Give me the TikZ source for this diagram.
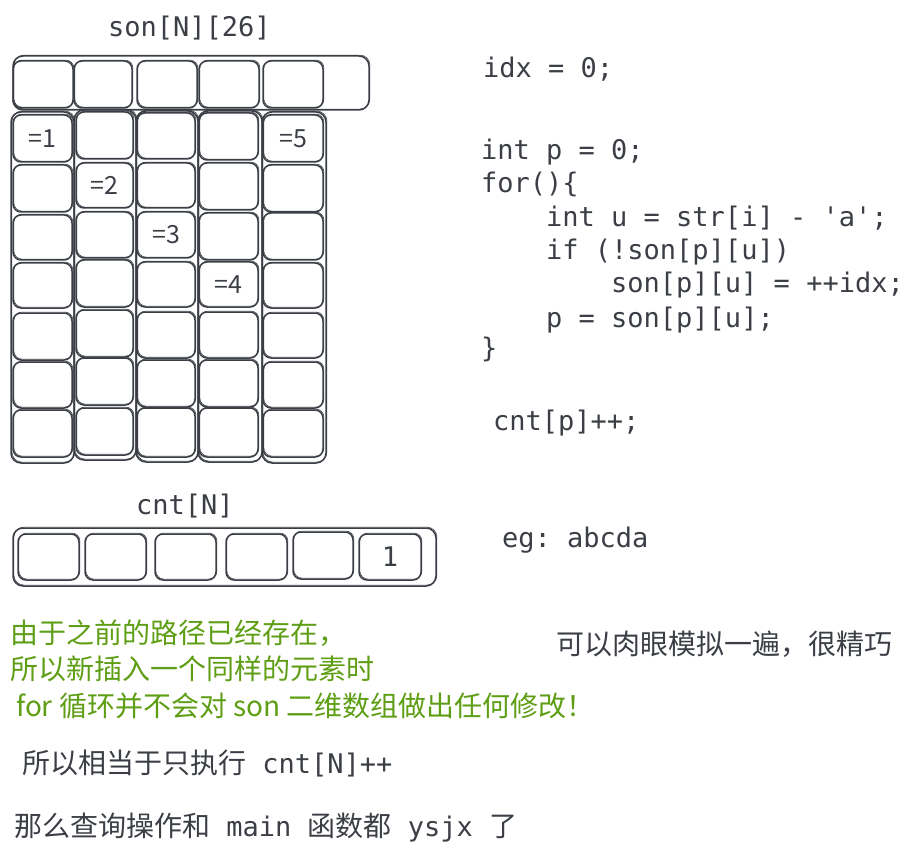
\documentclass[tikz,border=0pt]{standalone}
\usepackage{fontspec}
\setmonofont{DejaVu Sans Mono}
\newfontfamily\cjk{Noto Sans CJK SC}
\definecolor{ink}{HTML}{3B3F45}
\definecolor{grn}{HTML}{5E9E14}
\newcommand\bx[7][]{\node[cell,#1,minimum width={(#5-#3)*1pt},minimum height={(#6-#4)*1pt}] (#2) at ({(#3+#5)/2},{(#4+#6)/2}) {#7};}
\begin{document}
\begin{tikzpicture}[x=1pt,y=-1pt,
  cell/.style={rectangle,draw=ink,line width=1.5pt,rounded corners=8pt,inner sep=0pt,outer sep=0pt,
    preaction={draw=ink,line width=0.6pt,transform canvas={shift={(0.9pt,0.9pt)}}}},
  holder/.style={rounded corners=10pt},
  code/.style={anchor=base west,inner sep=0pt,text=ink,font=\ttfamily\fontsize{27}{32}\selectfont},
  txt/.style={anchor=base west,inner sep=0pt,text=ink,font=\fontsize{28}{34}\selectfont},
  gtxt/.style={anchor=base west,inner sep=0pt,text=grn,font=\cjk\fontsize{28}{34}\selectfont},
  lbl/.style={inner sep=0pt,text=ink,font=\cjk\fontsize{25}{30}\selectfont}]
\useasboundingbox (0,0) rectangle (916,853);

% son[N][26]
\node[code] (sonlbl) at (108,37) {son[N][26]};
\bx[holder]{sonrow}{13}{56}{369}{110}{}
\bx{s1}{13}{61}{73}{108}{}
\bx{s2}{74}{61}{132}{108}{}
\bx{s3}{137}{61}{197}{108}{}
\bx{s4}{199}{61}{259}{108}{}
\bx{s5}{263}{61}{323}{108}{}

% columns
\bx[holder]{col1}{11}{112}{74}{463}{}
\bx[holder]{col2}{74}{110}{136}{460}{}
\bx[holder]{col3}{136}{111}{198}{462}{}
\bx[holder]{col4}{198}{111}{262}{462}{}
\bx[holder]{col5}{262}{112}{326}{463}{}

\foreach \ya/\yb [count=\r] in {115/162,165/212,215/260,263/308,313/360,362/408,410/457}
  {\bx{c1r\r}{13}{\ya}{72}{\yb}{}}
\foreach \ya/\yb [count=\r] in {112/159,163/208,212/258,260/307,310/357,358/405,408/455}
  {\bx{c2r\r}{76}{\ya}{133}{\yb}{}}
\foreach \ya/\yb [count=\r] in {113/159,163/208,212/258,262/307,312/358,360/407,408/457}
  {\bx{c3r\r}{137}{\ya}{195}{\yb}{}}
\foreach \ya/\yb [count=\r] in {113/160,163/210,213/260,262/307,312/358,360/407,408/457}
  {\bx{c4r\r}{199}{\ya}{258}{\yb}{}}
\foreach \ya/\yb [count=\r] in {115/162,165/212,213/260,263/308,313/358,362/408,410/457}
  {\bx{c5r\r}{263}{\ya}{323}{\yb}{}}

\node[lbl] (v1) at (c1r1) {=1};
\node[lbl] (v2) at (c2r2) {=2};
\node[lbl] (v3) at (c3r3) {=3};
\node[lbl] (v4) at (c4r4) {=4};
\node[lbl] (v5) at (c5r1) {=5};

% cnt[N]
\node[code] (cntlbl) at (136,514) {cnt[N]};
\bx[holder]{cntrow}{13}{528}{436}{586}{}
\bx{k1}{18}{534}{79}{580}{}
\bx{k2}{85}{534}{146}{580}{}
\bx{k3}{155}{534}{216}{580}{}
\bx{k4}{226}{534}{287}{580}{}
\bx{k5}{293}{532}{353}{579}{}
\bx[font=\ttfamily\fontsize{27}{32}\selectfont,text=ink]{k6}{359}{534}{421}{580}{1}

% code
\node[code] (l1) at (483,78) {idx = 0;};
\node[code] (l2) at (481,160) {int p = 0;};
\node[code] (l3) at (481,193) {for()\{};
\node[code] (l4) at (546,227) {int u = str[i] - \symbol{39}a\symbol{39};};
\node[code] (l5) at (546,260) {if (!son[p][u])};
\node[code] (l6) at (611,293) {son[p][u] = ++idx;};
\node[code] (l7) at (546,327) {p = son[p][u];};
\node[code] (l8) at (481,357) {\}};
\node[code] (l9) at (493,430) {cnt[p]++;};
\node[code] (eg) at (502,547) {eg: abcda};

% notes
\node[txt,font=\cjk\fontsize{28}{34}\selectfont] (n1) at (556,654) {可以肉眼模拟一遍，很精巧};
\node[gtxt] (g1) at (10,643) {由于之前的路径已经存在，};
\node[gtxt] (g2) at (10,679) {所以新插入一个同样的元素时};
\node[gtxt] (g3) at (16,716) {for 循环并不会对 son 二维数组做出任何修改！};
\node[txt] (t1) at (22,773) {{\cjk 所以相当于只执行}\ttfamily\fontsize{27}{32}\selectfont{} cnt[N]++};
\node[txt] (t2) at (14,836) {{\cjk 那么查询操作和}{\ttfamily\fontsize{27}{32}\selectfont{} main }{\cjk 函数都}{\ttfamily\fontsize{27}{32}\selectfont{} ysjx }{\cjk 了}};
\end{tikzpicture}
\end{document}
